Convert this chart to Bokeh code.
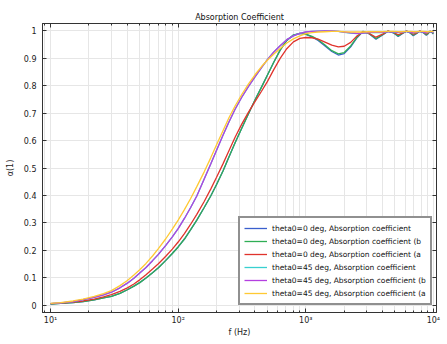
from bokeh.plotting import figure
from bokeh.models import (LogAxis, LinearAxis, FixedTicker, Legend, LegendItem,
                          CustomJSTickFormatter)
from bokeh.embed import file_html
from bokeh.resources import INLINE

# ---------------- data ----------------
freq = [10, 12, 15, 18, 22, 26, 30, 35, 40, 45,
        50, 56, 63, 70, 80, 90, 100, 112, 125, 140,
        160, 180, 200, 225, 250, 280, 315, 355, 400, 450,
        500, 560, 630, 710, 800, 900, 1000, 1120, 1250, 1400,
        1600, 1800, 2000, 2250, 2500, 2800, 3150, 3550, 4000, 4400,
        4850, 5300, 5700, 6150, 6550, 6950, 7400, 7800, 8300, 8800,
        9100, 9400, 9700, 10000]

alpha_0 = [0.004, 0.006, 0.009, 0.013, 0.019, 0.026, 0.032, 0.043, 0.056, 0.069,
           0.082, 0.099, 0.118, 0.136, 0.163, 0.188, 0.212, 0.241, 0.274, 0.310,
           0.356, 0.398, 0.440, 0.490, 0.540, 0.593, 0.645, 0.697, 0.748, 0.795,
           0.838, 0.885, 0.930, 0.965, 0.985, 0.991, 0.987, 0.978, 0.965, 0.947,
           0.925, 0.912, 0.917, 0.942, 0.973, 0.998, 0.989, 0.970, 0.985, 0.999,
           0.993, 0.980, 0.990, 0.999, 0.993, 0.982, 0.991, 0.999, 0.994, 0.984,
           0.990, 0.998, 0.995, 0.989]
alpha_0_b = [0.004, 0.006, 0.009, 0.013, 0.019, 0.026, 0.032, 0.043, 0.056, 0.069,
             0.082, 0.099, 0.118, 0.136, 0.163, 0.188, 0.212, 0.241, 0.274, 0.310,
             0.356, 0.398, 0.440, 0.490, 0.540, 0.593, 0.645, 0.697, 0.748, 0.795,
             0.838, 0.885, 0.930, 0.965, 0.985, 0.991, 0.988, 0.980, 0.968, 0.950,
             0.928, 0.916, 0.921, 0.945, 0.975, 0.998, 0.990, 0.972, 0.986, 0.999,
             0.994, 0.982, 0.991, 0.999, 0.994, 0.984, 0.992, 0.999, 0.995, 0.986,
             0.991, 0.998, 0.996, 0.990]
alpha_0_a = [0.005, 0.007, 0.011, 0.015, 0.022, 0.030, 0.038, 0.050, 0.063, 0.077,
             0.092, 0.111, 0.132, 0.151, 0.178, 0.204, 0.230, 0.261, 0.294, 0.331,
             0.378, 0.423, 0.466, 0.516, 0.563, 0.613, 0.660, 0.703, 0.742, 0.780,
             0.815, 0.858, 0.900, 0.935, 0.960, 0.973, 0.976, 0.975, 0.970, 0.960,
             0.948, 0.942, 0.944, 0.958, 0.980, 0.996, 0.990, 0.977, 0.988, 0.999,
             0.995, 0.986, 0.992, 0.999, 0.995, 0.988, 0.993, 0.999, 0.996, 0.989,
             0.993, 0.998, 0.996, 0.993]
alpha_45 = [0.005, 0.008, 0.013, 0.020, 0.028, 0.037, 0.047, 0.063, 0.080, 0.098,
            0.117, 0.137, 0.162, 0.185, 0.218, 0.249, 0.279, 0.316, 0.355, 0.398,
            0.460, 0.515, 0.565, 0.620, 0.668, 0.715, 0.758, 0.797, 0.832, 0.866,
            0.895, 0.922, 0.946, 0.968, 0.982, 0.991, 0.996, 0.998, 0.999, 1.000,
            1.000, 0.998, 0.995, 0.992, 0.990, 0.991, 0.994, 0.995, 0.994, 0.997,
            0.996, 0.994, 0.995, 0.998, 0.995, 0.993, 0.995, 0.998, 0.995, 0.993,
            0.995, 0.998, 0.996, 0.994]
alpha_45_b = [0.005, 0.008, 0.013, 0.020, 0.028, 0.037, 0.047, 0.063, 0.080, 0.098,
              0.117, 0.137, 0.162, 0.185, 0.218, 0.249, 0.279, 0.316, 0.355, 0.398,
              0.460, 0.515, 0.565, 0.620, 0.668, 0.715, 0.758, 0.797, 0.832, 0.866,
              0.895, 0.922, 0.946, 0.968, 0.982, 0.991, 0.996, 0.998, 0.999, 1.000,
              1.000, 0.998, 0.996, 0.993, 0.991, 0.992, 0.995, 0.996, 0.995, 0.997,
              0.997, 0.995, 0.996, 0.998, 0.996, 0.994, 0.996, 0.998, 0.996, 0.994,
              0.996, 0.998, 0.997, 0.995]
alpha_45_a = [0.006, 0.009, 0.015, 0.022, 0.032, 0.042, 0.053, 0.071, 0.090, 0.110,
              0.129, 0.152, 0.179, 0.206, 0.242, 0.277, 0.310, 0.348, 0.388, 0.432,
              0.486, 0.537, 0.585, 0.637, 0.683, 0.727, 0.768, 0.806, 0.840, 0.870,
              0.893, 0.915, 0.936, 0.956, 0.971, 0.982, 0.990, 0.994, 0.996, 0.997,
              0.998, 0.998, 0.997, 0.996, 0.996, 0.996, 0.997, 0.997, 0.997, 0.998,
              0.998, 0.997, 0.997, 0.998, 0.998, 0.997, 0.997, 0.998, 0.998, 0.997,
              0.997, 0.998, 0.998, 0.997]

labels = ["theta0=0 deg, Absorption coefficient",
          "theta0=0 deg, Absorption coefficient (b",
          "theta0=0 deg, Absorption coefficient (a",
          "theta0=45 deg, Absorption coefficient",
          "theta0=45 deg, Absorption coefficient (b",
          "theta0=45 deg, Absorption coefficient (a"]
values = [alpha_0, alpha_0_b, alpha_0_a, alpha_45, alpha_45_b, alpha_45_a]
colors = ["#3a5fcd", "#2fae55", "#e0332c", "#38d0d0", "#b43fe0", "#ffc933"]

major_x = [10, 100, 1000, 10000]
minor_x = [m * d for d in (1, 10, 100, 1000) for m in (2, 3, 4, 5, 6, 7, 8, 9)]
y_ticks = [0, 0.1, 0.2, 0.3, 0.4, 0.5, 0.6, 0.7, 0.8, 0.9, 1.0]

FONT = "DejaVu Sans"

p = figure(width=447, height=344, x_axis_type="log",
           x_range=(8.65, 10580), y_range=(-0.027, 1.027),
           output_backend="svg", toolbar_location=None,
           min_border_left=42, min_border_right=11,
           min_border_top=23, min_border_bottom=32,
           title="Absorption Coefficient")
p.title.align = "center"
p.title.text_font = FONT
p.title.text_font_size = "8px"
p.title.text_font_style = "normal"
p.title.text_color = "#111111"
p.title.standoff = 3
p.outline_line_color = "#333333"

xticker = FixedTicker(ticks=major_x, minor_ticks=minor_x)
yticker = FixedTicker(ticks=y_ticks)

xfmt = CustomJSTickFormatter(code="""
const sup = {"1":"\\u00b9","2":"\\u00b2","3":"\\u00b3","4":"\\u2074"};
const e = Math.round(Math.log10(tick));
return "10" + sup[String(e)];
""")
yfmt = CustomJSTickFormatter(code="""
const v = Math.round(tick * 10) / 10;
return String(v);
""")
blank = CustomJSTickFormatter(code="return '';")

def style_axis(ax, show=True):
    ax.axis_line_color = "#333333"
    ax.major_tick_line_color = "#333333"
    ax.minor_tick_line_color = "#333333"
    ax.major_tick_in = 4
    ax.major_tick_out = 0
    ax.minor_tick_in = 2
    ax.minor_tick_out = 0
    ax.major_label_text_font = FONT
    ax.axis_label_text_font = FONT
    ax.axis_label_text_font_style = "normal"
    ax.major_label_text_color = "#222222"
    ax.axis_label_text_color = "#222222"
    ax.major_label_text_font_size = "8px"
    ax.axis_label_text_font_size = "8px"
    if not show:
        ax.formatter = blank
        ax.major_label_standoff = 0

xa = p.xaxis[0]
xa.ticker = xticker
xa.formatter = xfmt
xa.axis_label = "f (Hz)"
style_axis(xa)
xa.major_label_standoff = 3
xa.axis_label_standoff = 0

ya = p.yaxis[0]
ya.ticker = yticker
ya.formatter = yfmt
ya.axis_label = "\u03b1(1)"
style_axis(ya)
ya.major_label_standoff = 6
ya.axis_label_standoff = 6

top = LogAxis(ticker=xticker)
style_axis(top, show=False)
p.add_layout(top, "above")
right = LinearAxis(ticker=yticker)
style_axis(right, show=False)
p.add_layout(right, "right")

p.xgrid.grid_line_color = "#e6e6e6"
p.xgrid.minor_grid_line_color = "#e6e6e6"
p.ygrid.grid_line_color = "#e6e6e6"

items = []
for label, vals, color in zip(labels, values, colors):
    r = p.line(freq, vals, line_color=color, line_width=1.3)
    items.append(LegendItem(label=label, renderers=[r]))

legend = Legend(items=items, location=(196, 7))
legend.label_text_font = FONT
legend.label_text_font_size = "7.5px"
legend.label_text_color = "#111111"
legend.glyph_width = 23
legend.glyph_height = 12
legend.label_height = 12
legend.spacing = 1
legend.padding = 4
legend.margin = 0
legend.label_standoff = 5
legend.border_line_color = "#222222"
legend.border_line_width = 2
legend.background_fill_color = "white"
legend.background_fill_alpha = 1.0
p.add_layout(legend)

open("out.html", "w").write(file_html(p, INLINE))
